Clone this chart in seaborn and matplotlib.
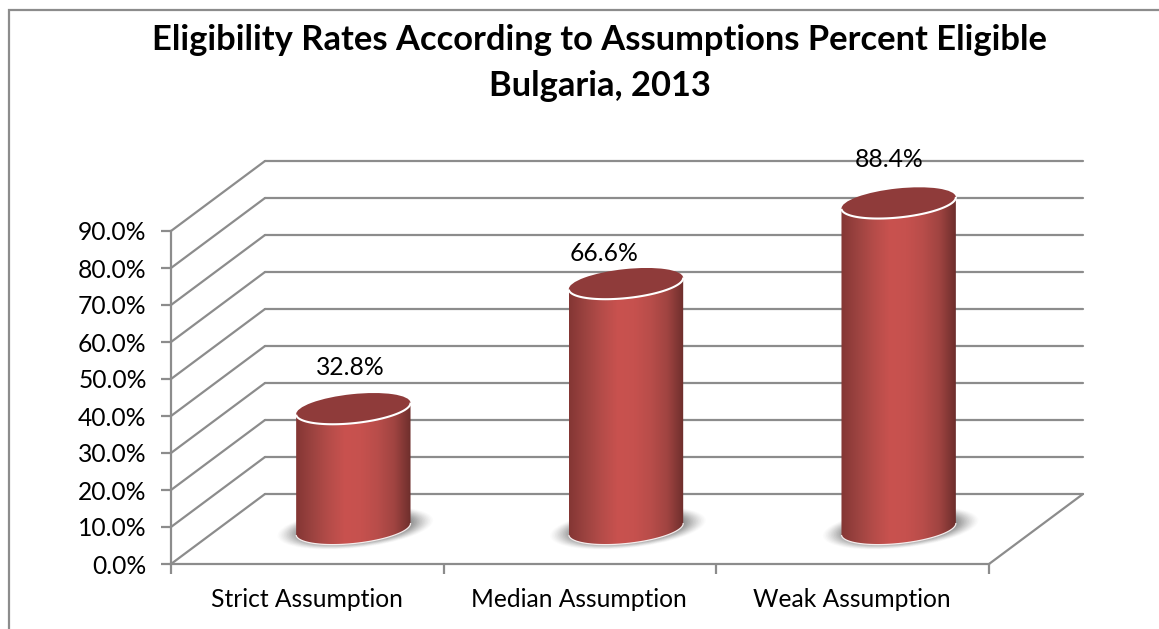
import numpy as np
import pandas as pd
import matplotlib
matplotlib.use('Agg')
import matplotlib.pyplot as plt
import matplotlib.transforms as mtrans
from matplotlib.colors import LinearSegmentedColormap
from matplotlib.patches import Ellipse, PathPatch, Rectangle
from matplotlib.path import Path
import seaborn as sns

# chart data
categories = ['Strict Assumption', 'Median Assumption', 'Weak Assumption']
percent_eligible = [32.8, 66.6, 88.4]
y_ticks = [0, 10, 20, 30, 40, 50, 60, 70, 80, 90]
title_text = 'Eligibility Rates According to Assumptions Percent Eligible\nBulgaria, 2013'

# where the value labels sit relative to the cylinder top, pixels
label_dx = [-3, -22, -10]
label_dy = [41, 30, 43]

W, H = 1159, 629
FS = 17.7
sns.set_theme(style='white')
plt.rcParams['font.family'] = ['Lato', 'DejaVu Sans']

df = pd.DataFrame({'assumption': categories, 'pct': percent_eligible})

fig = plt.figure(figsize=(W / 100, H / 100), dpi=100)
# front plane of the fake 3d box, pixels 171-989 wide and 231-564 high
ax = fig.add_axes([171 / W, 1 - 564 / H, 818 / W, 333 / H])
sns.barplot(data=df, x='assumption', y='pct', ax=ax, width=0.422, color='#c0504d', saturation=1)
ax.set_xlim(-0.5, 2.5)
ax.set_ylim(0, 90)
ax.set_xlabel('')
ax.set_ylabel('')
ax.patch.set_visible(False)
for s in ['top', 'right']:
    ax.spines[s].set_visible(False)
for s in ['left', 'bottom']:
    ax.spines[s].set_color('#8c8c8c')
    ax.spines[s].set_linewidth(1.6)

ax.set_yticks(y_ticks)
ax.set_yticklabels([f'{t:.1f}%' for t in y_ticks], fontsize=FS, color='black')
ax.set_xticks([-0.5, 0.5, 1.5, 2.5])
ax.set_xticklabels([])
ax.tick_params(axis='y', length=7, width=1.6, color='#8c8c8c', left=True, pad=10.5)
ax.tick_params(axis='x', length=7, width=1.6, color='#8c8c8c', bottom=True, direction='out')
for i, c in enumerate(categories):
    ax.text(i - 0.003, -9.6, c, ha='center', va='center', fontsize=FS, color='black')

# depth of the box in pixels
dx, dy = 94, 70
pix = mtrans.IdentityTransform()
back = ax.transData + mtrans.Affine2D().translate(dx, dy)
GRID = '#8c8c8c'
for t in y_ticks:
    x0, y0 = ax.transData.transform((-0.5, t))
    ax.plot([x0, x0 + dx], [y0, y0 + dy], transform=pix, color=GRID, lw=1.6, clip_on=False, zorder=0.5)
    ax.plot([-0.5, 2.5], [t, t], transform=back, color=GRID, lw=1.6, clip_on=False, zorder=0.5)
# floor edge on the right
x0, y0 = ax.transData.transform((2.5, 0))
ax.plot([x0, x0 + dx], [y0, y0 + dy], transform=pix, color=GRID, lw=1.6, clip_on=False, zorder=0.5)

# turn each bar into a cylinder half way into the box
side = LinearSegmentedColormap.from_list('side', ['#843634', '#9c4340', '#b54c49', '#c9524f', '#c6514e', '#b84d4a', '#a04441', '#6d2e2c'])
tilt = 6
rx, ry = 57.5, 14.5
a = np.radians(tilt)
ex, ey = rx * np.cos(a), rx * np.sin(a)
ts = np.linspace(np.pi, 2 * np.pi, 60)
for i, bar in enumerate(list(ax.patches)):
    x_mid = bar.get_x() + bar.get_width() / 2
    top_val = bar.get_height()
    bar.set_visible(False)
    cx, by = ax.transData.transform((x_mid, 0))
    _, ty = ax.transData.transform((x_mid, top_val))
    cx += dx / 2 - 1
    by += dy / 2
    ty += dy / 2 - 1

    # soft shadow on the floor
    for k, alpha in zip(np.linspace(1.36, 1.0, 14), np.linspace(0.02, 0.1, 14)):
        sh = Ellipse((cx + 2, by + 1), 2 * rx * k, 2 * ry * (k + 0.02), angle=tilt, color='#555555', alpha=alpha, lw=0,
                     transform=pix, clip_on=False, zorder=1)
        ax.add_patch(sh)

    # body: gradient image clipped to the cylinder outline
    im = ax.imshow(np.linspace(0, 1, 256).reshape(1, -1), cmap=side, aspect='auto',
                   extent=[cx - ex, cx + ex, by - ry - 4, ty + ry + 6], transform=pix, zorder=2)
    low = np.c_[cx + rx * np.cos(ts) * np.cos(a) - ry * np.sin(ts) * np.sin(a),
                by + rx * np.cos(ts) * np.sin(a) + ry * np.sin(ts) * np.cos(a)]
    verts = np.vstack([low, [[cx + ex, ty + ey]], [[cx - ex, ty - ey]], low[:1]])
    outline = PathPatch(Path(verts), transform=pix, fc='none', ec='none')
    ax.add_patch(outline)
    im.set_clip_box(fig.bbox)
    im.set_clip_path(outline)
    ax.add_patch(PathPatch(Path(low), transform=pix, fc='none', ec='#f4ecec', lw=0.9, zorder=2.2, clip_on=False))

    # top cap, white rim only on the near side
    cap = Ellipse((cx, ty), 2 * rx, 2 * ry, angle=tilt, fc='#8f3b3a', ec='none', transform=pix, zorder=2.5, clip_on=False)
    ax.add_patch(cap)
    rim = np.c_[cx + rx * np.cos(ts) * np.cos(a) - ry * np.sin(ts) * np.sin(a),
                ty + rx * np.cos(ts) * np.sin(a) + ry * np.sin(ts) * np.cos(a)]
    ax.add_patch(PathPatch(Path(rim), transform=pix, fc='none', ec='white', lw=1.5, zorder=2.6, clip_on=False))

    # value label
    ax.text(cx + label_dx[i], ty + label_dy[i], f'{top_val:.1f}%', transform=pix, ha='center', va='center',
            fontsize=FS, color='black', zorder=3, clip_on=False)

ax.set_xlim(-0.5, 2.5)
ax.set_ylim(0, 90)

fig.text(600 / W, 1 - 63 / H, title_text, ha='center', va='center', fontsize=24.8, fontweight='bold', color='black', linespacing=1.52)

# chart area frame, runs off the right and bottom of the picture
fig.add_artist(Rectangle((9 / W, -0.02), (W + 20) / W, 1.02 - 9.5 / H, transform=fig.transFigure, fc='none', ec='#8c8c8c', lw=1.6))

fig.savefig('out.png', dpi=100)
plt.close(fig)
